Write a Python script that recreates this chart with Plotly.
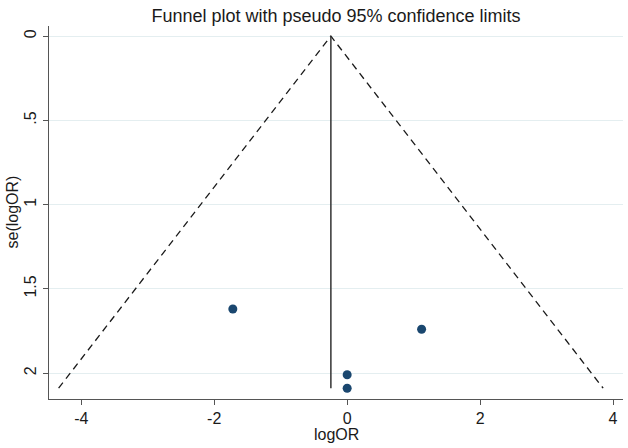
import plotly.graph_objects as go

# Study data
log_or = [-1.72, 1.12, 0.0, 0.0]
se_log_or = [1.62, 1.74, 2.01, 2.09]

# Pooled estimate and funnel limits
pooled = -0.245
se_max = 2.09
z = 1.96

x_ticks = [-4, -2, 0, 2, 4]
x_tick_labels = ["-4", "-2", "0", "2", "4"]
y_ticks = [0, 0.5, 1, 1.5, 2]
y_tick_labels = ["0", ".5", "1", "1.5", "2"]

W, H = 628, 448
L, R, T, B = 49, 5, 26, 49
plot_h = H - T - B
plot_w = W - L - R

fig = go.Figure()

# Pseudo 95% confidence limits (dashed)
fig.add_trace(go.Scatter(
    x=[pooled - z * se_max, pooled, pooled + z * se_max],
    y=[se_max, 0, se_max],
    mode="lines",
    line=dict(color="#1a1a1a", width=1.3, dash="7px,5px"),
    hoverinfo="skip",
    showlegend=False,
))

# Pooled estimate vertical line
fig.add_trace(go.Scatter(
    x=[pooled, pooled],
    y=[0, se_max],
    mode="lines",
    line=dict(color="#333333", width=1.5),
    hoverinfo="skip",
    showlegend=False,
))

# Studies
fig.add_trace(go.Scatter(
    x=log_or,
    y=se_log_or,
    mode="markers",
    marker=dict(color="#1a476f", size=9),
    showlegend=False,
))

font_family = "Liberation Sans, Arial, sans-serif"
txt = "#1a1a1a"

fig.update_layout(
    template="none",
    width=W,
    height=H,
    margin=dict(l=L, r=R, t=T, b=B, pad=0),
    paper_bgcolor="white",
    plot_bgcolor="white",
    font=dict(family=font_family, size=16, color=txt),
    title=dict(
        text="Funnel plot with pseudo 95% confidence limits",
        x=0.5, xref="paper", xanchor="center",
        y=1 - 16 / H, yref="container", yanchor="middle",
        font=dict(size=18, color=txt, family=font_family),
    ),
    xaxis=dict(
        automargin=False,
        range=[-4.486, 4.15],
        tickvals=x_ticks,
        ticktext=x_tick_labels,
        showgrid=False,
        zeroline=False,
        showline=True,
        linecolor="#555555",
        linewidth=1.3,
        ticks="outside",
        ticklen=5,
        tickwidth=1,
        tickcolor="#555555",
        tickfont=dict(size=16, color=txt),
    ),
    yaxis=dict(
        automargin=False,
        range=[2.154, -0.06],
        tickvals=y_ticks,
        ticktext=y_tick_labels,
        tickangle=-90,
        showgrid=True,
        gridcolor="#e4eef0",
        gridwidth=1,
        zeroline=False,
        showline=True,
        linecolor="#555555",
        linewidth=1.3,
        ticks="outside",
        ticklen=5,
        tickwidth=1,
        tickcolor="#555555",
        tickfont=dict(size=16, color=txt),
    ),
    annotations=[
        dict(
            text="logOR", xref="paper", yref="paper",
            x=0.5, y=-(434 - (H - B)) / plot_h,
            xanchor="center", yanchor="middle", showarrow=False,
            font=dict(size=16, color=txt),
        ),
        dict(
            text="se(logOR)", xref="paper", yref="paper",
            x=(12 - L) / plot_w, y=0.5, textangle=-90,
            xanchor="center", yanchor="middle", showarrow=False,
            font=dict(size=16, color=txt),
        ),
    ],
)

fig.write_html(
    "out.html",
    config={"displayModeBar": False},
    post_script="document.body.style.margin='0';document.body.style.overflow='hidden';",
)
